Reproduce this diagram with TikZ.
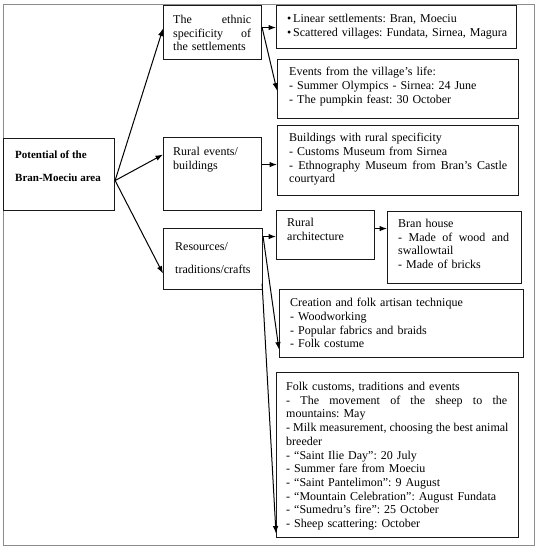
\documentclass[tikz,border=0pt]{standalone}
\usepackage{fontspec}
\setmainfont{Liberation Serif}
\usetikzlibrary{arrows.meta,calc}
\newcommand{\jl}[2]{\leavevmode\hbox to #1{\spaceskip=0.25em plus 1fil\relax #2}}
\frenchspacing
\begin{document}
\begin{tikzpicture}[x=1pt,y=-1pt,
  box/.style={draw=black!90, line width=1.1pt, inner sep=0pt, anchor=north west},
  txt/.style={anchor=north west, inner sep=0pt, align=left, font=\fontsize{12}{13.7}\selectfont},
  wide/.style={font=\fontsize{12}{23}\selectfont},
  widebold/.style={font=\fontsize{11}{23}\selectfont\bfseries},
  arr/.style={-{Latex[length=7.5pt,width=5.5pt]}, line width=1pt}]
\useasboundingbox (0,0) rectangle (540,550);
\draw[black!45, line width=0.9pt] (3,4) rectangle (534,545);

% boxes
\node[box, minimum width=111pt, minimum height=72pt] (potential) at (3,138) {};
\node[box, minimum width=98pt, minimum height=54pt] (ethnic) at (163,5) {};
\node[box, minimum width=98pt, minimum height=73pt] (ruralev) at (163,137) {};
\node[box, minimum width=99pt, minimum height=61pt] (resources) at (163,228) {};
\node[box, minimum width=240pt, minimum height=43pt] (bullets) at (276,5) {};
\node[box, minimum width=241pt, minimum height=59pt] (events) at (277,59) {};
\node[box, minimum width=241pt, minimum height=70pt] (buildings) at (277,125) {};
\node[box, minimum width=98pt, minimum height=49pt] (rarch) at (276,210) {};
\node[box, minimum width=134pt, minimum height=72pt] (bran) at (387,211) {};
\node[box, minimum width=244pt, minimum height=68pt] (creation) at (279,289) {};
\node[box, minimum width=242pt, minimum height=165pt] (folk) at (276,372) {};

% texts
\node[txt, widebold] (potentialT) at ([xshift=12pt,yshift=-13pt]potential.north west)
  {Potential of the\\Bran-Moeciu area};
\node[txt, text width=78pt] (ethnicT) at ([xshift=10pt,yshift=-10pt]ethnic.north west)
  {\jl{78pt}{The ethnic}\\\jl{78pt}{specificity of}\\the settlements};
\node[txt, text width=78pt] (ruralevT) at ([xshift=10pt,yshift=-10pt]ruralev.north west)
  {Rural events/\\buildings};
\node[txt, wide, text width=84pt] (resourcesT) at ([xshift=12pt,yshift=-14pt]resources.north west)
  {Resources/\\traditions/crafts};
\node[txt, text width=225pt] (bulletsT) at ([xshift=11pt,yshift=-9pt]bullets.north west)
  {\makebox[6pt][l]{\textbullet}Linear settlements: Bran, Moeciu\\
   \makebox[6pt][l]{\textbullet}Scattered villages: Fundata, Sirnea, Magura};
\node[txt, text width=220pt] (eventsT) at ([xshift=12pt,yshift=-8pt]events.north west)
  {Events from the village's life:\\- Summer Olympics - Sirnea: 24 June\\- The pumpkin feast: 30 October};
\node[txt, text width=218pt] (buildingsT) at ([xshift=12pt,yshift=-8pt]buildings.north west)
  {Buildings with rural specificity\\- Customs Museum from Sirnea\\
   \jl{218pt}{- Ethnography Museum from Bran's Castle}\\courtyard};
\node[txt, text width=80pt] (rarchT) at ([xshift=11pt,yshift=-8pt]rarch.north west)
  {Rural\\architecture};
\node[txt, text width=111pt] (branT) at ([xshift=11pt,yshift=-8pt]bran.north west)
  {Bran house\\\jl{111pt}{- Made of wood and}\\swallowtail\\- Made of bricks};
\node[txt, text width=222pt] (creationT) at ([xshift=11pt,yshift=-9pt]creation.north west)
  {Creation and folk artisan technique\\- Woodworking\\- Popular fabrics and braids\\- Folk costume};
\node[txt, text width=221pt] (folkT) at ([xshift=10pt,yshift=-10pt]folk.north west)
  {Folk customs, traditions and events\\
   \jl{221pt}{- The movement of the sheep to the}\\
   mountains: May\\
   \jl{221pt}{- Milk measurement, choosing the best animal}\\
   breeder\\
   - “Saint Ilie Day”: 20 July\\
   - Summer fare from Moeciu\\
   - “Saint Pantelimon”: 9 August\\
   - “Mountain Celebration”: August Fundata\\
   - “Sumedru's fire”: 25 October\\
   - Sheep scattering: October};

% connectors
\coordinate (pS) at ([yshift=-6pt]potential.east);
\draw[arr] (pS) -- ([yshift=4pt]ethnic.west);
\draw[arr] (pS) -- ([yshift=19.5pt]ruralev.west);
\draw[arr] (pS) -- ([yshift=-14.5pt]resources.west);
\coordinate (eS) at ([yshift=5pt]ethnic.east);
\draw[arr] (eS) -- (eS -| bullets.west);
\draw[arr] (eS) -- ([yshift=-1.5pt]events.west);
\coordinate (rS) at ([yshift=9.5pt]ruralev.east);
\draw[arr] (rS) -- (rS -| buildings.west);
\coordinate (sS) at ([yshift=22.5pt]resources.east);
\draw[arr] (sS) -- (sS -| rarch.west);
\draw[arr] (sS) -- ([yshift=-26pt]creation.west);
\coordinate (sB) at ([xshift=-1pt,yshift=-24.5pt]resources.east);
\draw[arr] (sB) -- ([yshift=-78.5pt]folk.west);
\coordinate (aS) at ([yshift=6.5pt]rarch.east);
\draw[arr] (aS) -- (aS -| bran.west);
\end{tikzpicture}
\end{document}
